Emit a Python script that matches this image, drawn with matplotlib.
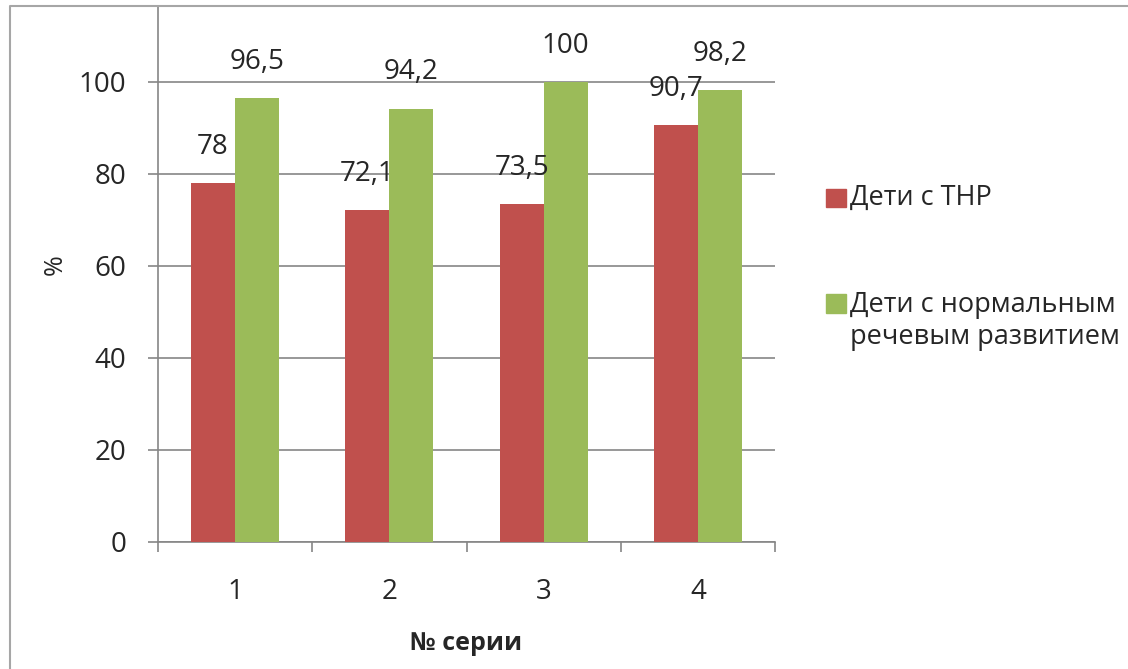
import matplotlib
matplotlib.use("Agg")
import matplotlib.pyplot as plt
from matplotlib.lines import Line2D
from matplotlib.patches import Rectangle
import numpy as np

plt.rcParams['font.family'] = ['Open Sans', 'DejaVu Sans']

categories = ["1", "2", "3", "4"]
thr_values = [78, 72.1, 73.5, 90.7]
normal_values = [96.5, 94.2, 100, 98.2]
thr_labels = ["78", "72,1", "73,5", "90,7"]
normal_labels = ["96,5", "94,2", "100", "98,2"]
series_names = ["Дети с ТНР", "Дети с нормальным\nречевым развитием"]
yticks = [0, 20, 40, 60, 80, 100]

RED = "#C0504D"
GREEN = "#9BBB59"
AXC = "#868686"
TXT = "#262626"

W, H = 1128, 669
fig = plt.figure(figsize=(W / 100, H / 100), dpi=100)
fig.patch.set_facecolor("white")

def fx(px):
    return px / W

def fy(py):
    return 1 - py / H

# outer chart border
fig.add_artist(Line2D([fx(10), fx(10), fx(W)], [fy(H), fy(6), fy(6)],
                      color="#A6A6A6", lw=1.5, transform=fig.transFigure))

ax = fig.add_axes([fx(158), fy(542), fx(775) - fx(158), fy(6) - fy(542)])
ax.set_facecolor("none")

x = np.arange(1, len(categories) + 1)
bw = 1 / 3.5
ax.bar(x - bw / 2, thr_values, width=bw, color=RED, zorder=3)
ax.bar(x + bw / 2, normal_values, width=bw, color=GREEN, zorder=3)

for xi, v, lab in zip(x - bw / 2, thr_values, thr_labels):
    ax.annotate(lab, xy=(xi, v), xytext=(0, 26), textcoords="offset points",
                ha="center", va="center", fontsize=20, color=TXT, zorder=4)
for xi, v, lab in zip(x + bw / 2, normal_values, normal_labels):
    ax.annotate(lab, xy=(xi, v), xytext=(0, 26), textcoords="offset points",
                ha="center", va="center", fontsize=20, color=TXT, zorder=4)

ax.set_xlim(0.5, len(categories) + 0.5)
ax.set_ylim(0, 116.5)
ax.set_yticks(yticks)
ax.set_yticklabels([str(t) for t in yticks], fontsize=20, color=TXT)
ax.yaxis.grid(True, color=AXC, lw=1.2, zorder=0)
ax.set_axisbelow(True)
ax.tick_params(axis="y", direction="out", length=7, width=1.2, color=AXC, pad=16)

ax.set_xticks(x)
ax.set_xticklabels(categories, fontsize=20, color=TXT)
ax.tick_params(axis="x", which="major", length=0, pad=26)
ax.set_xticks(np.arange(0.5, len(categories) + 1), minor=True)
ax.tick_params(axis="x", which="minor", direction="out", length=7, width=1.2, color=AXC)

for s in ["top", "right"]:
    ax.spines[s].set_visible(False)
for s in ["left", "bottom"]:
    ax.spines[s].set_color(AXC)
    ax.spines[s].set_linewidth(1.2)

ax.set_xlabel("№ серии", fontsize=18, fontweight="bold", color=TXT, labelpad=18)
fig.text(fx(55), fy(265), "%", rotation=90, ha="center", va="center",
         fontsize=18, color=TXT)

# legend
fig.add_artist(Rectangle((fx(826), fy(207)), fx(20), fy(189) - fy(207),
                         color=RED, transform=fig.transFigure))
fig.text(fx(850), fy(198), series_names[0], ha="left", va="center",
         fontsize=19.5, color=TXT)
fig.add_artist(Rectangle((fx(826), fy(313)), fx(20), fy(294) - fy(313),
                         color=GREEN, transform=fig.transFigure))
fig.text(fx(850), fy(321), series_names[1], ha="left", va="center",
         fontsize=19.5, color=TXT, linespacing=1.15)

fig.savefig("out.png", dpi=100)
